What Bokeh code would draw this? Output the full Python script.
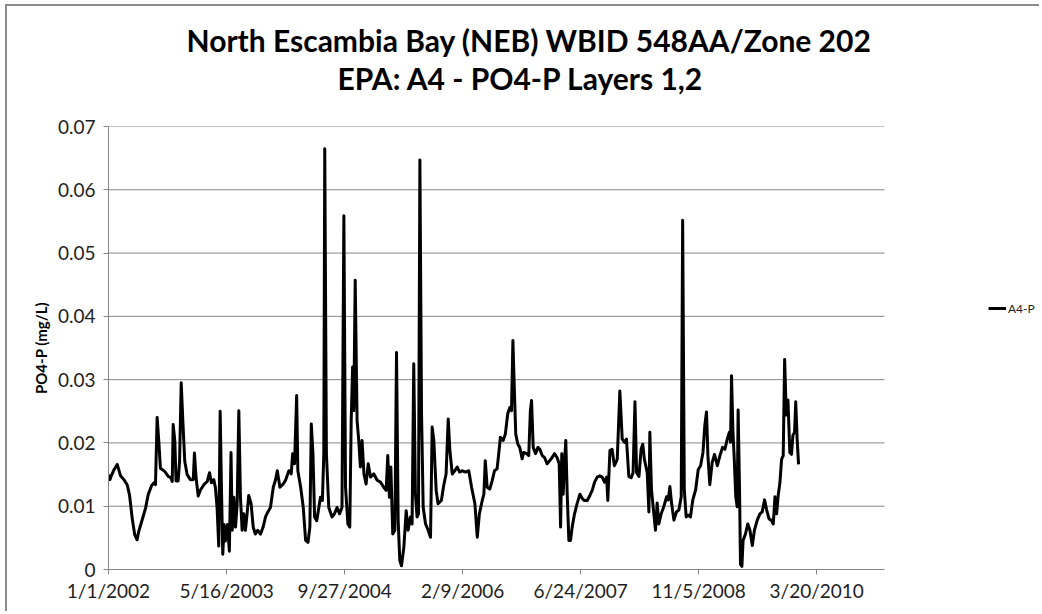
import pandas as pd
from bokeh.plotting import figure
from bokeh.models import (Range1d, FixedTicker, CustomJSTickFormatter, Title,
                          Legend, LegendItem, ColumnDataSource)
from bokeh.embed import file_html
from bokeh.resources import INLINE

# ---------------- data ----------------
TITLE_LINE_1 = "North Escambia Bay (NEB) WBID 548AA/Zone 202"
TITLE_LINE_2 = "EPA:  A4 - PO4-P Layers 1,2"
Y_LABEL = "PO4-P (mg/L)"
SERIES_NAME = "A4-P"

START_DATE = "2002-01-01"
END_DATE = "2011-01-01"

# days after START_DATE
DAY_OFFSETS = [
    0, 6, 14, 24, 37, 51, 65, 79, 89, 100, 111, 121, 128, 143, 157, 168, 182, 192, 199,
    206, 213, 220, 238, 253, 264, 270, 274, 281, 286, 295, 301, 308, 315, 323, 333, 347,
    359, 364, 371, 380, 390, 404, 418, 428, 436, 446, 453, 460, 467, 473, 479, 484, 490,
    495, 504, 512, 519, 524, 531, 538, 545, 552, 559, 566, 573, 580, 587, 594, 604, 613,
    622, 632, 644, 655, 665, 675, 686, 698, 707, 715, 726, 740, 750, 764, 774, 780, 788,
    797, 802, 814, 825, 835, 845, 853, 859, 866, 873, 882, 891, 898, 906, 912, 916, 923,
    933, 947, 957, 968, 979, 989, 997, 1004, 1014, 1022, 1028, 1034, 1039, 1045, 1053,
    1060, 1067, 1074, 1082, 1091, 1100, 1110, 1124, 1138, 1152, 1166, 1176, 1183, 1190,
    1196, 1204, 1213, 1220, 1227, 1234, 1241, 1251, 1261, 1269, 1279, 1286, 1293, 1300,
    1307, 1313, 1319, 1326, 1333, 1343, 1354, 1364, 1371, 1378, 1388, 1396, 1410, 1420,
    1430, 1439, 1446, 1456, 1467, 1477, 1487, 1498, 1512, 1526, 1538, 1552, 1562, 1571,
    1583, 1590, 1596, 1604, 1615, 1625, 1635, 1646, 1653, 1660, 1672, 1681, 1691, 1700,
    1707, 1713, 1718, 1725, 1734, 1742, 1752, 1759, 1771, 1780, 1787, 1792, 1799, 1809,
    1819, 1827, 1837, 1847, 1858, 1869, 1879, 1889, 1900, 1909, 1915, 1920, 1926, 1932,
    1937, 1943, 1950, 1957, 1964, 1974, 1985, 1997, 2007, 2016, 2028, 2039, 2049, 2059,
    2070, 2081, 2091, 2101, 2110, 2115, 2124, 2133, 2143, 2155, 2166, 2176, 2186, 2194,
    2204, 2214, 2222, 2230, 2237, 2247, 2256, 2263, 2270, 2282, 2289, 2293, 2300, 2310,
    2317, 2324, 2331, 2341, 2352, 2364, 2371, 2378, 2385, 2395, 2406, 2416, 2426, 2432,
    2439, 2447, 2456, 2465, 2475, 2487, 2498, 2508, 2518, 2526, 2533, 2539, 2547, 2557,
    2567, 2579, 2590, 2601, 2611, 2621, 2630, 2635, 2639, 2645, 2650, 2657, 2663, 2667,
    2673, 2677, 2683, 2688, 2698, 2708, 2717, 2727, 2736, 2748, 2759, 2769, 2779, 2788,
    2798, 2807, 2816, 2823, 2830, 2837, 2844, 2851, 2858, 2864, 2871, 2878, 2886, 2893,
    2899, 2906, 2911, 2917, 2923,
]

PO4_P = [
    0.0150, 0.0142, 0.0150, 0.0158, 0.0166, 0.0148, 0.0142, 0.0134, 0.0118, 0.0082, 0.0055,
    0.0047, 0.0060, 0.0079, 0.0097, 0.0118, 0.0132, 0.0137, 0.0134, 0.0240, 0.0203, 0.0160,
    0.0155, 0.0147, 0.0145, 0.0139, 0.0229, 0.0203, 0.0140, 0.0140, 0.0171, 0.0295, 0.0234,
    0.0171, 0.0150, 0.0142, 0.0142, 0.0184, 0.0145, 0.0116, 0.0126, 0.0134, 0.0139, 0.0153,
    0.0137, 0.0142, 0.0129, 0.0097, 0.0037, 0.0250, 0.0118, 0.0024, 0.0071, 0.0045, 0.0071,
    0.0029, 0.0185, 0.0062, 0.0114, 0.0067, 0.0104, 0.0251, 0.0114, 0.0062, 0.0088, 0.0062,
    0.0088, 0.0117, 0.0104, 0.0067, 0.0056, 0.0062, 0.0056, 0.0067, 0.0083, 0.0091, 0.0098,
    0.0130, 0.0141, 0.0156, 0.0130, 0.0135, 0.0141, 0.0156, 0.0151, 0.0183, 0.0167, 0.0275,
    0.0156, 0.0130, 0.0098, 0.0046, 0.0043, 0.0067, 0.0230, 0.0183, 0.0083, 0.0077, 0.0098,
    0.0114, 0.0109, 0.0183, 0.0665, 0.0183, 0.0098, 0.0083, 0.0088, 0.0098, 0.0088, 0.0098,
    0.0559, 0.0130, 0.0072, 0.0067, 0.0235, 0.0320, 0.0251, 0.0457, 0.0235, 0.0204, 0.0162,
    0.0204, 0.0151, 0.0135, 0.0167, 0.0146, 0.0151, 0.0141, 0.0138, 0.0130, 0.0125, 0.0180,
    0.0114, 0.0162, 0.0056, 0.0062, 0.0343, 0.0077, 0.0014, 0.0006, 0.0035, 0.0093, 0.0062,
    0.0083, 0.0072, 0.0325, 0.0120, 0.0083, 0.0088, 0.0647, 0.0246, 0.0098, 0.0072, 0.0062,
    0.0051, 0.0225, 0.0204, 0.0125, 0.0104, 0.0109, 0.0133, 0.0151, 0.0238, 0.0188, 0.0151,
    0.0156, 0.0162, 0.0154, 0.0156, 0.0154, 0.0156, 0.0130, 0.0104, 0.0051, 0.0088, 0.0109,
    0.0119, 0.0172, 0.0130, 0.0127, 0.0140, 0.0156, 0.0159, 0.0183, 0.0209, 0.0204, 0.0214,
    0.0246, 0.0256, 0.0251, 0.0362, 0.0298, 0.0214, 0.0198, 0.0193, 0.0175, 0.0185, 0.0183,
    0.0180, 0.0251, 0.0267, 0.0193, 0.0183, 0.0193, 0.0190, 0.0180, 0.0177, 0.0167, 0.0172,
    0.0177, 0.0183, 0.0177, 0.0167, 0.0067, 0.0183, 0.0119, 0.0172, 0.0204, 0.0119, 0.0046,
    0.0046, 0.0067, 0.0088, 0.0104, 0.0119, 0.0112, 0.0109, 0.0109, 0.0117, 0.0125, 0.0138,
    0.0146, 0.0148, 0.0146, 0.0138, 0.0146, 0.0109, 0.0188, 0.0190, 0.0164, 0.0174, 0.0282,
    0.0206, 0.0201, 0.0206, 0.0147, 0.0145, 0.0153, 0.0265, 0.0153, 0.0147, 0.0190, 0.0198,
    0.0174, 0.0153, 0.0091, 0.0217, 0.0126, 0.0088, 0.0062, 0.0105, 0.0072, 0.0088, 0.0099,
    0.0115, 0.0110, 0.0131, 0.0105, 0.0078, 0.0091, 0.0094, 0.0115, 0.0552, 0.0126, 0.0083,
    0.0086, 0.0083, 0.0110, 0.0126, 0.0158, 0.0164, 0.0185, 0.0228, 0.0249, 0.0180, 0.0134,
    0.0169, 0.0182, 0.0164, 0.0180, 0.0193, 0.0190, 0.0206, 0.0217, 0.0201, 0.0306, 0.0217,
    0.0180, 0.0115, 0.0099, 0.0252, 0.0126, 0.0008, 0.0005, 0.0046, 0.0056, 0.0072, 0.0062,
    0.0038, 0.0062, 0.0078, 0.0088, 0.0091, 0.0110, 0.0094, 0.0080, 0.0078, 0.0072, 0.0115,
    0.0088, 0.0118, 0.0137, 0.0174, 0.0180, 0.0332, 0.0244, 0.0268, 0.0185, 0.0182, 0.0212,
    0.0217, 0.0265, 0.0206, 0.0166,
]

X_TICK_LABELS = ["1/1/2002", "5/16/2003", "9/27/2004", "2/9/2006",
                 "6/24/2007", "11/5/2008", "3/20/2010"]
Y_TICKS = [0, 0.01, 0.02, 0.03, 0.04, 0.05, 0.06, 0.07]
Y_TICK_LABELS = ["0", "0.01", "0.02", "0.03", "0.04", "0.05", "0.06", "0.07"]


def to_ms(ts):
    return (pd.DatetimeIndex(ts) - pd.Timestamp("1970-01-01")) // pd.Timedelta(milliseconds=1)


dates = pd.Timestamp(START_DATE) + pd.to_timedelta(DAY_OFFSETS, unit="D")
src = ColumnDataSource(dict(date=dates, v=PO4_P))

x_tick_ms = [float(v) for v in to_ms(pd.to_datetime(X_TICK_LABELS, format="%m/%d/%Y"))]
x_start, x_end = [float(v) for v in to_ms(pd.to_datetime([START_DATE, END_DATE]))]

# layout: the plotting area (axis + grid) is 776 px wide; the frame is widened to
# 933 px so the legend (which lies right of the plot area) sits inside the frame.
PLOT_AREA_PX = 776
FRAME_PX = 933
x_frame_end = x_start + (x_end - x_start) * FRAME_PX / PLOT_AREA_PX

FONT = "Lato"
GRAY = "#868686"
TEXT = "#1e1e1e"

p = figure(width=1034, height=607, x_axis_type="datetime",
           x_range=Range1d(x_start, x_frame_end), y_range=Range1d(0, 0.07),
           output_backend="svg", toolbar_location=None, title=None,
           min_border_left=101, min_border_right=0,
           min_border_top=120, min_border_bottom=44)
p.styles = {"border-left": "2px solid #8c8c8c", "border-top": "2px solid #8c8c8c",
            "margin-left": "5px", "margin-top": "4px"}
p.outline_line_color = None
p.background_fill_color = "white"
p.border_fill_color = "white"

# horizontal gridlines limited to the plotting area
p.xgrid.visible = False
p.ygrid.visible = False
p.segment(x0=[x_start] * len(Y_TICKS), x1=[x_end] * len(Y_TICKS), y0=Y_TICKS, y1=Y_TICKS,
          line_color=GRAY, line_width=1)

r = p.line("date", "v", source=src, line_color="black", line_width=3, line_join="round")

JS_PICK = """
    let best = 0, bd = Infinity;
    for (let i = 0; i < tvals.length; i++) {
        const d = Math.abs(tvals[i] - tick);
        if (d < bd) { bd = d; best = i; }
    }
    return tlabels[best];
"""

# axes
p.xaxis.ticker = FixedTicker(ticks=x_tick_ms)
p.xaxis.formatter = CustomJSTickFormatter(args=dict(tvals=x_tick_ms, tlabels=X_TICK_LABELS), code=JS_PICK)
p.xaxis.bounds = (x_start, x_end)
p.yaxis.ticker = FixedTicker(ticks=Y_TICKS)
p.yaxis.formatter = CustomJSTickFormatter(args=dict(tvals=Y_TICKS, tlabels=Y_TICK_LABELS), code=JS_PICK)

for ax in (p.xaxis[0], p.yaxis[0]):
    ax.axis_line_color = GRAY
    ax.axis_line_width = 1
    ax.major_tick_line_color = GRAY
    ax.major_tick_out = 5
    ax.major_tick_in = 0
    ax.minor_tick_line_color = None
    ax.major_label_text_font = FONT
    ax.major_label_text_font_size = "19px"
    ax.major_label_text_color = TEXT

p.xaxis.major_label_standoff = 4
p.yaxis.major_label_standoff = 8
p.yaxis.axis_label = Y_LABEL
p.yaxis.axis_label_text_font = FONT
p.yaxis.axis_label_text_font_style = "bold"
p.yaxis.axis_label_text_font_size = "15px"
p.yaxis.axis_label_text_color = "black"
p.yaxis.axis_label_standoff = 5

# title: spacer, then second line, then first line (stacked upward from the frame)
spacer = Title(text=" ", text_font=FONT, text_font_size="24px", standoff=0)
t2 = Title(text=TITLE_LINE_2, align="left", offset=229, standoff=0,
           text_font=FONT, text_font_style="bold", text_font_size="30px", text_color="black")
t1 = Title(text=TITLE_LINE_1, align="left", offset=78, standoff=0,
           text_font=FONT, text_font_style="bold", text_font_size="30px", text_color="black")
p.add_layout(spacer, "above")
p.add_layout(t2, "above")
p.add_layout(t1, "above")

legend = Legend(items=[LegendItem(label=SERIES_NAME, renderers=[r])],
                location=(880, 251), padding=0, margin=0, spacing=0,
                glyph_width=18, glyph_height=20, label_standoff=2,
                label_text_font=FONT, label_text_font_size="12px",
                label_text_color=TEXT,
                background_fill_alpha=0, border_line_alpha=0)
p.add_layout(legend)

open("out.html", "w").write(file_html(p, INLINE))
